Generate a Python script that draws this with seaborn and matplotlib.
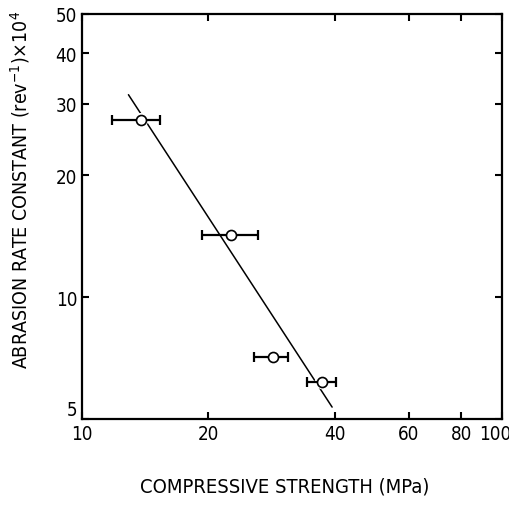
import matplotlib
matplotlib.use("Agg")
import matplotlib.pyplot as plt
import seaborn as sns
from matplotlib import font_manager
from matplotlib.ticker import FixedLocator, FixedFormatter, NullLocator
from matplotlib.transforms import ScaledTranslation

# Compressive strength (MPa): mean value with lower/upper limits of the spread
strength = [13.8, 22.6, 28.5, 37.3]
strength_lo = [11.8, 19.3, 25.7, 34.3]
strength_hi = [15.3, 26.2, 31.0, 40.3]
# Abrasion rate constant (rev^-1) x 10^4
rate = [27.3, 14.2, 7.1, 6.18]

# End points of the fitted power-law line
fit_strength = [12.9, 39.4]
fit_rate = [31.6, 5.35]

x_ticks = [10, 20, 40, 60, 80, 100]
x_tick_labels = ["10", "20", "40", "60", "80", "100"]
y_ticks = [5, 10, 20, 30, 40, 50]
y_tick_labels = ["5", "10", "20", "30", "40", "50"]

x_title = "COMPRESSIVE STRENGTH (MPa)"
y_title = r"ABRASION RATE CONSTANT (rev$^{-1}$)$\times$10$^{4}$"

sns.set_theme(style="ticks")

# pick a narrow lettering font if one is installed
entries = font_manager.fontManager.ttflist
names = {f.name for f in entries}
stretch_pairs = {(f.name, str(f.stretch)) for f in entries}
family, stretch = "DejaVu Sans", "normal"
if "DejaVu Sans Condensed" in names:
    family = "DejaVu Sans Condensed"
elif ("DejaVu Sans", "condensed") in stretch_pairs:
    family, stretch = "DejaVu Sans", "condensed"
elif "Liberation Sans Narrow" in names:
    family = "Liberation Sans Narrow"

plt.rcParams.update({
    "font.family": [family, "DejaVu Sans"],
    "font.stretch": stretch,
    "mathtext.fontset": "custom",
    "mathtext.rm": family,
    "mathtext.it": family,
    "mathtext.bf": family,
    "mathtext.default": "regular",
    "text.color": "black",
    "axes.labelcolor": "black",
    "xtick.color": "black",
    "ytick.color": "black",
    "axes.edgecolor": "black",
})

fig = plt.figure(figsize=(5.10, 5.06), dpi=100)
ax = fig.add_axes([82 / 510, 1 - 420 / 506, 420 / 510, 405 / 506])
ax.set_xscale("log")
ax.set_yscale("log")

# fitted line
sns.lineplot(x=fit_strength, y=fit_rate, ax=ax, color="black", lw=1.1,
             zorder=1, legend=False)

# white halo that breaks the line around the markers
sns.scatterplot(x=strength, y=rate, ax=ax, s=115, color="white",
                edgecolor="none", zorder=2, legend=False)

# horizontal spread bars
xerr = [[m - lo for m, lo in zip(strength, strength_lo)],
        [hi - m for m, hi in zip(strength, strength_hi)]]
ax.errorbar(strength, rate, xerr=xerr, fmt="none", ecolor="black",
            elinewidth=1.6, capsize=3.3, capthick=1.6, zorder=3)

# open circle markers
sns.scatterplot(x=strength, y=rate, ax=ax, s=52, facecolor="white",
                edgecolor="black", linewidth=1.2, zorder=4, legend=False)

ax.set_xlim(10, 100)
ax.set_ylim(5, 50)

ax.xaxis.set_major_locator(FixedLocator(x_ticks))
ax.xaxis.set_major_formatter(FixedFormatter(x_tick_labels))
ax.xaxis.set_minor_locator(NullLocator())
ax.yaxis.set_major_locator(FixedLocator(y_ticks))
ax.yaxis.set_major_formatter(FixedFormatter(y_tick_labels))
ax.yaxis.set_minor_locator(NullLocator())

ax.tick_params(which="major", direction="in", length=5, width=1.5,
               top=True, right=True, labelsize=13.5, pad=3.5)
for side in ax.spines.values():
    side.set_linewidth(1.6)
    side.set_color("black")

fig.canvas.draw()
# lowest y label sits just above the corner; last x label pulled inside
ax.get_yticklabels()[0].set_va("bottom")
last_x = ax.get_xticklabels()[-1]
last_x.set_transform(last_x.get_transform()
                     + ScaledTranslation(-7 / 100, 0, fig.dpi_scale_trans))

ax.set_xlabel(x_title, fontsize=14.5)
ax.xaxis.set_label_coords(0.483, -0.143)
ax.set_ylabel(y_title, fontsize=14)
ax.yaxis.set_label_coords(-0.119, 0.568)

fig.savefig("out.png", dpi=100)
